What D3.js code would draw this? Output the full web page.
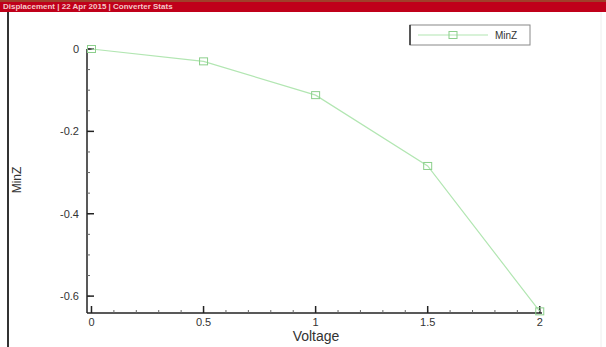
<!DOCTYPE html>
<html>
<head>
<meta charset="utf-8">
<script src="https://cdn.jsdelivr.net/npm/d3@7"></script>
<style>
  body { margin: 0; background: #fff; }
  text { font-family: "Liberation Sans", Arial, sans-serif; }
</style>
</head>
<body>
<div id="chart"></div>
<script>
// chart data
const voltage = [0, 0.5, 1, 1.5, 2];
const minZ = [0, -0.03, -0.112, -0.284, -0.637];
const xTicks = [0, 0.5, 1, 1.5, 2];
const yTicks = [0, -0.2, -0.4, -0.6];
const seriesName = 'MinZ';
const title = 'Displacement | 22 Apr 2015 | Converter Stats';

const W = 606, H = 347;
const svg = d3.select('#chart').append('svg')
  .attr('width', W)
  .attr('height', H);

// title bar
svg.append('rect').attr('x', 0).attr('y', 0).attr('width', W).attr('height', 12).attr('fill', '#c0001a');
svg.append('rect').attr('x', 0).attr('y', 0).attr('width', W).attr('height', 2).attr('fill', '#a0402a');
svg.append('text').attr('x', 3).attr('y', 9)
  .attr('font-size', 8).attr('font-weight', 'bold').attr('fill', '#f4c8c8')
  .text(title);

// frame lines
svg.append('line').attr('x1', 8).attr('x2', 8).attr('y1', 12).attr('y2', H).attr('stroke', '#333').attr('stroke-width', 2);
svg.append('line').attr('x1', 601).attr('x2', 601).attr('y1', 12).attr('y2', H).attr('stroke', '#eee').attr('stroke-width', 1);

const x = d3.scaleLinear().domain([-0.02, 2.01]).range([87, 542]);
const y = d3.scaleLinear().domain([-0.641, 0.0]).range([313, 49]);

const axisColor = '#222';
const fmt = d => d3.format('~g')(d).replace('\u2212', '-');

// x axis
const gx = svg.append('g').attr('transform', 'translate(0,313)');
gx.append('line').attr('x1', 87).attr('x2', 542).attr('stroke', axisColor).attr('stroke-width', 1.5);
gx.selectAll('.minor').data(d3.range(0, 2.01, 0.1))
  .enter().append('line')
  .attr('x1', d => x(d)).attr('x2', d => x(d))
  .attr('y1', 0).attr('y2', -3)
  .attr('stroke', '#666');
gx.selectAll('.major').data(xTicks)
  .enter().append('line')
  .attr('x1', d => x(d)).attr('x2', d => x(d))
  .attr('y1', 0).attr('y2', -7)
  .attr('stroke', axisColor).attr('stroke-width', 1.5);
gx.selectAll('.lbl').data(xTicks)
  .enter().append('text')
  .attr('x', d => x(d)).attr('y', 13)
  .attr('text-anchor', 'middle').attr('font-size', 11).attr('fill', '#333')
  .text(fmt);

// y axis
const gy = svg.append('g').attr('transform', 'translate(87,0)');
gy.append('line').attr('y1', 49).attr('y2', 313).attr('stroke', axisColor).attr('stroke-width', 1.5);
gy.selectAll('.minor').data(d3.range(0, -0.641, -0.05))
  .enter().append('line')
  .attr('y1', d => y(d)).attr('y2', d => y(d))
  .attr('x1', 0).attr('x2', 3)
  .attr('stroke', '#666');
gy.selectAll('.major').data(yTicks)
  .enter().append('line')
  .attr('y1', d => y(d)).attr('y2', d => y(d))
  .attr('x1', 0).attr('x2', 7)
  .attr('stroke', axisColor).attr('stroke-width', 1.5);
gy.selectAll('.lbl').data(yTicks)
  .enter().append('text')
  .attr('x', -8).attr('y', d => y(d) + 4)
  .attr('text-anchor', 'end').attr('font-size', 11).attr('fill', '#333')
  .text(fmt);

// axis titles
svg.append('text').attr('x', 316).attr('y', 341)
  .attr('text-anchor', 'middle').attr('font-size', 14).attr('fill', '#333')
  .text('Voltage');
svg.append('text')
  .attr('transform', 'translate(21,180) rotate(-90)')
  .attr('text-anchor', 'middle').attr('font-size', 12).attr('fill', '#333')
  .text(seriesName);

// series
const lineColor = '#b2e6b2';
const pts = voltage.map((v, i) => [v, minZ[i]]);
svg.append('path').datum(pts)
  .attr('fill', 'none').attr('stroke', lineColor).attr('stroke-width', 1.2)
  .attr('d', d3.line().x(d => x(d[0])).y(d => y(d[1])));
svg.selectAll('.mk').data(pts)
  .enter().append('rect')
  .attr('x', d => x(d[0]) - 4).attr('y', d => y(d[1]) - 3.5)
  .attr('width', 8).attr('height', 7)
  .attr('fill', 'none').attr('stroke', '#8ccf8c').attr('stroke-width', 1);

// legend
const lg = svg.append('g').attr('transform', 'translate(410,25)');
lg.append('rect').attr('width', 120).attr('height', 20)
  .attr('fill', '#fff').attr('stroke', '#888');
lg.append('line').attr('x1', 0).attr('x2', 0).attr('y1', 0).attr('y2', 20).attr('stroke', '#333').attr('stroke-width', 1.5);
lg.append('line').attr('x1', 8).attr('x2', 78).attr('y1', 10).attr('y2', 10).attr('stroke', lineColor).attr('stroke-width', 1.2);
lg.append('rect').attr('x', 39).attr('y', 6.5).attr('width', 8).attr('height', 7)
  .attr('fill', 'none').attr('stroke', '#8ccf8c');
lg.append('text').attr('x', 85).attr('y', 14).attr('font-size', 10).attr('fill', '#333').text(seriesName);
</script>
</body>
</html>
